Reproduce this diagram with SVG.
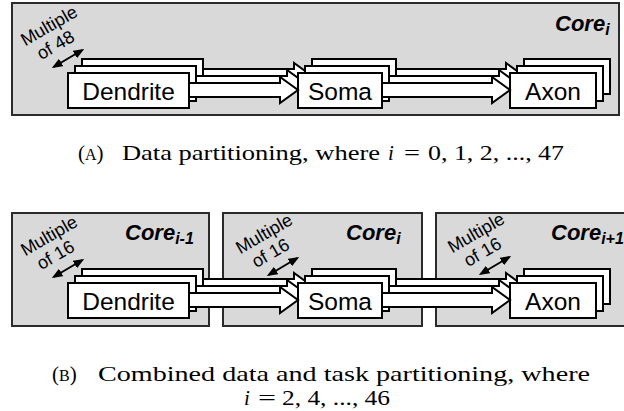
<svg xmlns="http://www.w3.org/2000/svg" width="624" height="411" viewBox="0 0 624 411">
<style>
.panel{fill:#d9d9d9;stroke:#2b2b2b;stroke-width:2}
.box{fill:#fff;stroke:#000;stroke-width:2}
.arr{fill:#fff;stroke:#000;stroke-width:2;stroke-linejoin:miter}
.lbl{font-family:"Liberation Sans",Arial,sans-serif;font-size:24.5px;text-anchor:middle;fill:#000}
.mult{font-family:"Liberation Sans",Arial,sans-serif;font-size:18px;text-anchor:middle;fill:#000}
.core{font-family:"Liberation Sans",Arial,sans-serif;font-size:22px;font-weight:bold;font-style:italic;fill:#000}
.sub{font-size:16px}
.dim{stroke:#000;stroke-width:2;fill:none;marker-start:url(#ah);marker-end:url(#ah)}
.cap{font-family:"Liberation Serif","Times New Roman",serif;font-size:21px;fill:#000}
.it{font-style:italic}
</style>
<defs>
<marker id="ah" viewBox="0 0 10 8" refX="8" refY="4" markerWidth="11" markerHeight="9" markerUnits="userSpaceOnUse" orient="auto-start-reverse"><path d="M0,0 L10,4 L0,8 z" fill="#000"/></marker>
<mask id="mBack" maskUnits="userSpaceOnUse" x="0" y="0" width="624" height="411">
<rect x="0" y="0" width="624" height="411" fill="#fff"/>
<rect x="297" y="72" width="86" height="37" fill="#000"/>
<rect x="304" y="65" width="86" height="37" fill="#000"/>
<rect x="509" y="72" width="88" height="37" fill="#000"/>
<rect x="516" y="65" width="88" height="37" fill="#000"/>
</mask>
<mask id="mMid" maskUnits="userSpaceOnUse" x="0" y="0" width="624" height="411">
<rect x="0" y="0" width="624" height="411" fill="#fff"/>
<rect x="297" y="72" width="86" height="37" fill="#000"/>
<rect x="509" y="72" width="88" height="37" fill="#000"/>
</mask>
</defs>

<!-- Panel A -->
<g id="panelA">
<rect class="panel" x="12" y="3" width="607" height="112"/>
<text class="core" x="555" y="31">Core<tspan class="sub" dy="4">i</tspan></text>
<g transform="translate(52,31) rotate(-30)"><text class="mult" x="0" y="0">Multiple</text><text class="mult" x="-4" y="20">of 48</text></g>
<line class="dim" x1="53.7" y1="67" x2="82.3" y2="50"/>
</g>

<g id="dendriteA">
<rect class="box" x="82" y="59" width="121" height="35"/>
<rect class="box" x="75" y="66" width="121" height="35"/>
<rect class="box" x="68" y="73" width="121" height="35"/>
<text class="lbl" x="128.5" y="99.5">Dendrite</text>
</g>
<g id="somaA">
<rect class="box" x="312" y="59" width="84" height="35"/>
<rect class="box" x="305" y="66" width="84" height="35"/>
<rect class="box" x="298" y="73" width="84" height="35"/>
<text class="lbl" x="340" y="99.5">Soma</text>
</g>
<g id="axonA">
<rect class="box" x="524" y="59" width="86" height="35"/>
<rect class="box" x="517" y="66" width="86" height="35"/>
<rect class="box" x="510" y="73" width="86" height="35"/>
<text class="lbl" x="553" y="99.5">Axon</text>
</g>

<!-- Panel B -->
<g id="panelB1">
<rect class="panel" x="12" y="213" width="197" height="113"/>
<text class="core" x="125" y="240">Core<tspan class="sub" dy="4">i-1</tspan></text>
<g transform="translate(52,241) rotate(-30)"><text class="mult" x="0" y="0">Multiple</text><text class="mult" x="-4" y="20">of 16</text></g>
<line class="dim" x1="53.7" y1="277" x2="82.3" y2="260"/>
</g>
<g id="panelB2">
<rect class="panel" x="223" y="213" width="199" height="113"/>
<text class="core" x="346" y="240">Core<tspan class="sub" dy="4">i</tspan></text>
<g transform="translate(267,239) rotate(-30)"><text class="mult" x="0" y="0">Multiple</text><text class="mult" x="-4" y="20">of 16</text></g>
<line class="dim" x1="268.7" y1="275" x2="297.3" y2="258"/>
</g>
<g id="panelB3">
<rect class="panel" x="436" y="213" width="200" height="113"/>
<text class="core" x="551" y="240">Core<tspan class="sub" dy="4">i+1</tspan></text>
<g transform="translate(479,238) rotate(-30)"><text class="mult" x="0" y="0">Multiple</text><text class="mult" x="-4" y="20">of 16</text></g>
<line class="dim" x1="480.7" y1="274" x2="509.3" y2="257"/>
</g>

<g id="dendriteB">
<rect class="box" x="82" y="269" width="121" height="35"/>
<rect class="box" x="75" y="276" width="121" height="35"/>
<rect class="box" x="68" y="283" width="121" height="35"/>
<text class="lbl" x="128.5" y="309.5">Dendrite</text>
</g>
<g id="somaB">
<rect class="box" x="312" y="269" width="84" height="35"/>
<rect class="box" x="305" y="276" width="84" height="35"/>
<rect class="box" x="298" y="283" width="84" height="35"/>
<text class="lbl" x="340" y="309.5">Soma</text>
</g>
<g id="axonB">
<rect class="box" x="524" y="269" width="86" height="35"/>
<rect class="box" x="517" y="276" width="86" height="35"/>
<rect class="box" x="510" y="283" width="86" height="35"/>
<text class="lbl" x="553" y="309.5">Axon</text>
</g>

<!-- Connectors -->
<g id="connectors">
<g id="connA">
<polygon class="arr" mask="url(#mBack)" points="203,69 294,69 294,63 312,76 294,89 294,83 203,83"/>
<polygon class="arr" mask="url(#mBack)" points="396,69 506,69 506,63 524,76 506,89 506,83 396,83"/>
<polygon class="arr" mask="url(#mMid)" points="196,76 287,76 287,70 305,83 287,96 287,90 196,90"/>
<polygon class="arr" mask="url(#mMid)" points="389,76 499,76 499,70 517,83 499,96 499,90 389,90"/>
<polygon class="arr" points="189,83 280,83 280,77 298,90 280,103 280,97 189,97"/>
<polygon class="arr" points="382,83 492,83 492,77 510,90 492,103 492,97 382,97"/>
</g>
<g id="connB" transform="translate(0,210)">
<polygon class="arr" mask="url(#mBack)" points="203,69 294,69 294,63 312,76 294,89 294,83 203,83"/>
<polygon class="arr" mask="url(#mBack)" points="396,69 506,69 506,63 524,76 506,89 506,83 396,83"/>
<polygon class="arr" mask="url(#mMid)" points="196,76 287,76 287,70 305,83 287,96 287,90 196,90"/>
<polygon class="arr" mask="url(#mMid)" points="389,76 499,76 499,70 517,83 499,96 499,90 389,90"/>
<polygon class="arr" points="189,83 280,83 280,77 298,90 280,103 280,97 189,97"/>
<polygon class="arr" points="382,83 492,83 492,77 510,90 492,103 492,97 382,97"/>
</g>
</g>

<!-- Captions -->
<g id="captionA">
<text class="cap" x="78" y="160">(<tspan font-size="16">A</tspan>)</text>
<text class="cap" x="122" y="160" textLength="258" lengthAdjust="spacingAndGlyphs">Data partitioning, where</text>
<text class="cap it" x="388" y="160">i</text>
<text class="cap" x="404" y="160" textLength="16" lengthAdjust="spacingAndGlyphs">=</text>
<text class="cap" x="428" y="160" textLength="136" lengthAdjust="spacingAndGlyphs">0, 1, 2, ..., 47</text>
</g>
<g id="captionB">
<text class="cap" x="52" y="381">(<tspan font-size="16">B</tspan>)</text>
<text class="cap" x="98" y="381" textLength="492" lengthAdjust="spacingAndGlyphs">Combined data and task partitioning, where</text>
<text class="cap it" x="244" y="405">i</text>
<text class="cap" x="258" y="405" textLength="18" lengthAdjust="spacingAndGlyphs">=</text>
<text class="cap" x="282" y="405" textLength="108" lengthAdjust="spacingAndGlyphs">2, 4, ..., 46</text>
</g>
</svg>
